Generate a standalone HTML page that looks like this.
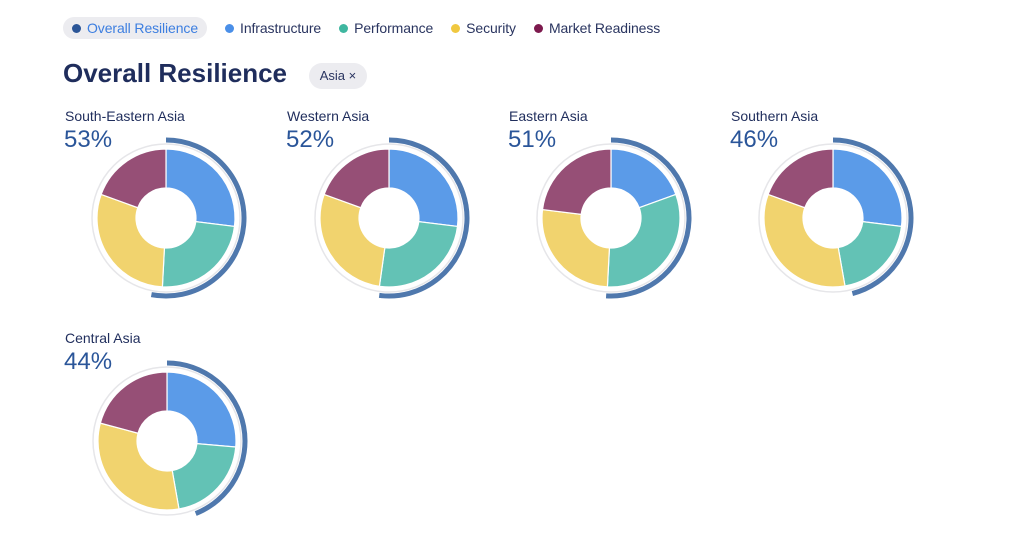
<!DOCTYPE html>
<html><head><meta charset="utf-8"><style>
body{margin:0;width:1024px;height:538px;background:#fff;font-family:"Liberation Sans",sans-serif;overflow:hidden;position:relative}
.leg{position:absolute;top:17px;left:63px;height:22px;display:flex;align-items:center;font-size:14px;color:#2a3560;letter-spacing:-0.1px}
.li{display:flex;align-items:center;margin-right:18px}
.li span.d{width:9px;height:9px;border-radius:50%;margin-right:6px;display:inline-block}
.sel{background:#ececf0;border-radius:11px;padding:3px 9px}
.title{position:absolute;left:63px;top:58px;font-size:26px;font-weight:bold;color:#1f2d5c}
.chip{position:absolute;left:309px;top:63px;width:58px;height:26px;border-radius:13px;background:#ececf0;font-size:13px;color:#2a3560;line-height:26px;text-align:center}
.lab{position:absolute;font-size:14px;color:#1f2d5c}
.pct{position:absolute;font-size:24px;color:#2a5599}
svg{position:absolute;left:0;top:0}
</style></head><body>
<div class="leg">
<div class="li sel"><span class="d" style="background:#2b5597"></span><span style="color:#3c7ee0">Overall Resilience</span></div>
<div class="li"><span class="d" style="background:#4a8fe8"></span>Infrastructure</div>
<div class="li"><span class="d" style="background:#3fb7a0"></span>Performance</div>
<div class="li"><span class="d" style="background:#f0c840"></span>Security</div>
<div class="li"><span class="d" style="background:#7d1a4e"></span>Market Readiness</div>
</div>
<div class="title">Overall Resilience</div>
<div class="chip">Asia ×</div>
<div class="lab" style="left:65px;top:108px">South-Eastern Asia</div><div class="pct" style="left:64px;top:126px">53%</div>
<div class="lab" style="left:287px;top:108px">Western Asia</div><div class="pct" style="left:286px;top:126px">52%</div>
<div class="lab" style="left:509px;top:108px">Eastern Asia</div><div class="pct" style="left:508px;top:126px">51%</div>
<div class="lab" style="left:731px;top:108px">Southern Asia</div><div class="pct" style="left:730px;top:126px">46%</div>
<div class="lab" style="left:65px;top:330px">Central Asia</div><div class="pct" style="left:64px;top:348px">44%</div>
<svg id="s" width="1024" height="538"></svg>
<script>
var C=["#5b9be8","#63c2b5","#f1d36e","#964f76"];
var charts=[[166,218,[0,97,183,290,360],53],[389,218,[0,97,188,290,360],52],[611,218,[0,70,183,277,360],51],[833,218,[0,97,170,290,360],46],[167,441,[0,95,170,285,360],44]];
function pt(cx,cy,r,a){a=a*Math.PI/180;return [cx+r*Math.sin(a),cy-r*Math.cos(a)];}
var h="";
charts.forEach(function(c){var cx=c[0],cy=c[1],A=c[2],ro=69,ri=30;
h+='<circle cx="'+cx+'" cy="'+cy+'" r="74" fill="none" stroke="#e6e6e9" stroke-width="1.5"/>';
for(var i=0;i<4;i++){var a0=A[i],a1=A[i+1],l=(a1-a0)>180?1:0;
var p1=pt(cx,cy,ro,a0),p2=pt(cx,cy,ro,a1),p3=pt(cx,cy,ri,a1),p4=pt(cx,cy,ri,a0);
h+='<path d="M'+p1+' A'+ro+' '+ro+' 0 '+l+' 1 '+p2+' L'+p3+' A'+ri+' '+ri+' 0 '+l+' 0 '+p4+'Z" fill="'+C[i]+'" stroke="#fff" stroke-width="1.2"/>';}
var e=c[3]*3.6,q1=pt(cx,cy,78,0),q2=pt(cx,cy,78,e);
h+='<path d="M'+q1+' A78 78 0 '+(e>180?1:0)+' 1 '+q2+'" fill="none" stroke="#4f78ad" stroke-width="5"/>';});
document.getElementById("s").innerHTML=h;
</script>
</body></html>
